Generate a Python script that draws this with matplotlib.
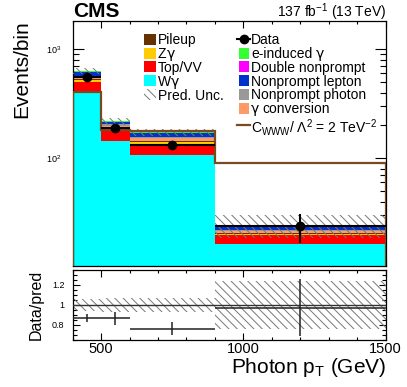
import matplotlib
matplotlib.use("Agg")
import matplotlib.pyplot as plt
from matplotlib.patches import Rectangle
from matplotlib.lines import Line2D
from matplotlib.ticker import MultipleLocator, FixedLocator, LogLocator, NullFormatter, FuncFormatter
import numpy as np

plt.rcParams["font.family"] = ["Liberation Sans", "DejaVu Sans"]
plt.rcParams["mathtext.fontset"] = "custom"
plt.rcParams["mathtext.rm"] = "Liberation Sans"
plt.rcParams["mathtext.it"] = "Liberation Sans:italic"
plt.rcParams["mathtext.bf"] = "Liberation Sans:bold"
plt.rcParams["hatch.linewidth"] = 0.7

# binning in photon pT (GeV)
edges = [400, 500, 600, 900, 1500]

# stacked backgrounds, bottom to top
w_gamma = [394, 145, 107, 16.2]
top_vv = [101, 35, 22, 3.5]
z_gamma = [25, 5, 12, 0.6]
pileup = [8, 4, 3, 0.3]
gamma_conv = [17, 9, 8, 1.0]
nonprompt_photon = [25, 8, 4, 0.5]
nonprompt_lepton = [45, 10, 15, 2.0]
double_nonprompt = [3, 1, 1, 0.2]
e_induced = [15, 2, 1, 0.2]
rel_unc = [0.06, 0.07, 0.07, 0.24]

data = [550, 190, 132, 23.8]
data_err = [23, 14, 11.5, 7]

eft_cwww = [403, 180, 178, 90]

W, H = 407, 387
edges = np.array(edges, dtype=float)
centers = 0.5 * (edges[1:] + edges[:-1])
halfw = 0.5 * (edges[1:] - edges[:-1])

stack = [
    (w_gamma, "#00FFFF"),
    (top_vv, "#FF0000"),
    (z_gamma, "#FFCC00"),
    (pileup, "#663300"),
    (gamma_conv, "#FF9966"),
    (nonprompt_photon, "#999999"),
    (nonprompt_lepton, "#0033CC"),
    (double_nonprompt, "#FF00FF"),
    (e_induced, "#33FF33"),
]


def fx(x):
    return x / W


def fy(y):
    return 1 - y / H


fig = plt.figure(figsize=(W / 100, H / 100), dpi=100)
renderer = fig.canvas.get_renderer()
ax = fig.add_axes([fx(72.7), fy(265.5), (385.5 - 72.7) / W, (265.5 - 20.7) / H])
rax = fig.add_axes([fx(72.7), fy(340), (385.5 - 72.7) / W, (340 - 270) / H])

# stacked histogram
bottom = np.full(4, 1e-3)
for vals, col in stack:
    top = bottom + np.array(vals)
    ax.stairs(top, edges, baseline=bottom, fill=True, color=col, linewidth=0, zorder=2)
    bottom = top
total = bottom

unc = np.array(rel_unc)
ax.stairs(total * (1 + unc), edges, baseline=total * (1 - unc), fill=True,
          facecolor="none", edgecolor="#777777", hatch="\\\\\\\\", linewidth=0, zorder=3)

ax.stairs(eft_cwww, edges, baseline=1e-3, color="#7A4A1F", linewidth=1.6, zorder=4)

ax.errorbar(centers, data, xerr=halfw, yerr=data_err, fmt="o", color="black",
            ms=6, elinewidth=1.5, capsize=0, zorder=5)

ax.set_yscale("log")
ax.set_xlim(400, 1500)
ax.set_ylim(10.4, 1820)
ax.yaxis.set_major_locator(LogLocator(base=10))
ax.yaxis.set_minor_locator(LogLocator(base=10, subs=np.arange(2, 10)))
ax.yaxis.set_minor_formatter(NullFormatter())
ax.xaxis.set_major_locator(MultipleLocator(500))
ax.xaxis.set_minor_locator(MultipleLocator(100))
ax.tick_params(axis="x", labelbottom=False)

# ratio panel
ratio = np.array(data) / total
ratio_err = np.array(data_err) / total
rax.stairs(1 + unc, edges, baseline=1 - unc, fill=True, facecolor="none",
           edgecolor="#777777", hatch="\\\\\\\\", linewidth=0, zorder=2)
rax.axhline(1, color="#333333", lw=1, zorder=3)
rax.errorbar(centers, ratio, xerr=halfw, yerr=ratio_err, fmt="none",
             color="#222222", elinewidth=1.1, capsize=0, zorder=4)
rax.set_xlim(400, 1500)
rax.set_ylim(0.65, 1.35)
rax.yaxis.set_major_locator(FixedLocator([0.8, 1.0, 1.2]))
rax.yaxis.set_major_formatter(FuncFormatter(lambda v, p: f"{v:g}"))
rax.yaxis.set_minor_locator(MultipleLocator(0.05))
rax.xaxis.set_major_locator(MultipleLocator(500))
rax.xaxis.set_minor_locator(MultipleLocator(100))

for a in (ax, rax):
    a.tick_params(which="both", direction="in", top=True, right=True, width=0.8)
    a.tick_params(axis="x", which="major", length=5)
    a.tick_params(axis="x", which="minor", length=2.5)
    for s in a.spines.values():
        s.set_linewidth(0.9)
ax.tick_params(axis="y", which="major", length=8, labelsize=6.5, pad=8)
ax.tick_params(axis="y", which="minor", length=4)
rax.tick_params(axis="y", which="major", length=5, labelsize=6.5, pad=6)
rax.tick_params(axis="y", which="minor", length=3)
rax.tick_params(axis="x", labelsize=10.5, pad=1.5)

# titles and axis labels
fig.text(fx(73), fy(17), "CMS", fontsize=15, fontweight="bold", va="baseline")
fig.text(fx(386), fy(17), "137 fb$^{-1}$ (13 TeV)", fontsize=10, ha="right", va="baseline")
fig.text(fx(22), fy(20), "Events/bin", fontsize=15, rotation=90, ha="center", va="top")
fig.text(fx(36), fy(305), "Data/pred", fontsize=11.5, rotation=90, ha="center", va="center")
fig.text(fx(386), fy(373), "Photon p$_{\\mathrm{T}}$ (GeV)", fontsize=15, ha="right", va="baseline")

# legend, drawn by hand in pixel positions
fs = 10
pitch = 13.8


def label(x, y, parts):
    # parts: list of (text, family, gap after in px); baseline at row centre + 5 px
    for txt, fam, gap in parts:
        t = fig.text(fx(x), fy(y + 5), txt, fontsize=fs, family=fam, va="baseline")
        bb = t.get_window_extent(renderer)
        x = bb.x1 + gap


LIB = "Liberation Sans"
GAM = "DejaVu Sans"
left_entries = [("#663300", [("Pileup", LIB, 0)]),
                ("#FFCC00", [("Z", LIB, 0), ("γ", GAM, 0)]),
                ("#FF0000", [("Top/VV", LIB, 0)]),
                ("#00FFFF", [("W", LIB, 0), ("γ", GAM, 0)])]
for i, (col, parts) in enumerate(left_entries):
    y = 39.3 + i * pitch
    fig.add_artist(Rectangle((fx(144), fy(y + 5.5)), 12 / W, 11 / H, transform=fig.transFigure,
                             facecolor=col, edgecolor="none"))
    label(158, y, parts)
y = 39.3 + 4 * pitch
fig.add_artist(Rectangle((fx(144), fy(y + 5.5)), 12 / W, 11 / H, transform=fig.transFigure,
                         facecolor="none", edgecolor="#777777", hatch="\\\\\\\\", linewidth=0))
label(158, y, [("Pred. Unc.", LIB, 0)])

y = 39.3
fig.add_artist(Line2D([fx(237), fx(250)], [fy(y), fy(y)], transform=fig.transFigure,
                      color="black", lw=1.5))
fig.add_artist(Line2D([fx(244)], [fy(y)], transform=fig.transFigure, marker="o",
                      color="black", ms=6))
label(251, y, [("Data", LIB, 0)])
right_entries = [("#33FF33", [("e-induced", LIB, 3.5), ("γ", GAM, 0)]),
                 ("#FF00FF", [("Double nonprompt", LIB, 0)]),
                 ("#0033CC", [("Nonprompt lepton", LIB, 0)]),
                 ("#999999", [("Nonprompt photon", LIB, 0)]),
                 ("#FF9966", [("γ", GAM, 3.5), ("conversion", LIB, 0)])]
for i, (col, parts) in enumerate(right_entries):
    y = 39.3 + (i + 1) * pitch
    fig.add_artist(Rectangle((fx(238.5), fy(y + 5.5)), 11 / W, 11 / H, transform=fig.transFigure,
                             facecolor=col, edgecolor="none"))
    label(251, y, parts)
y = 125
fig.add_artist(Line2D([fx(237), fx(250)], [fy(y), fy(y)], transform=fig.transFigure,
                      color="#7A4A1F", lw=1.6))
fig.text(fx(251), fy(y), "C$_{\\mathrm{WWW}}$/ Λ$^{2}$ = 2 TeV$^{-2}$", fontsize=fs,
         va="center_baseline")

fig.savefig("out.png", dpi=100)
